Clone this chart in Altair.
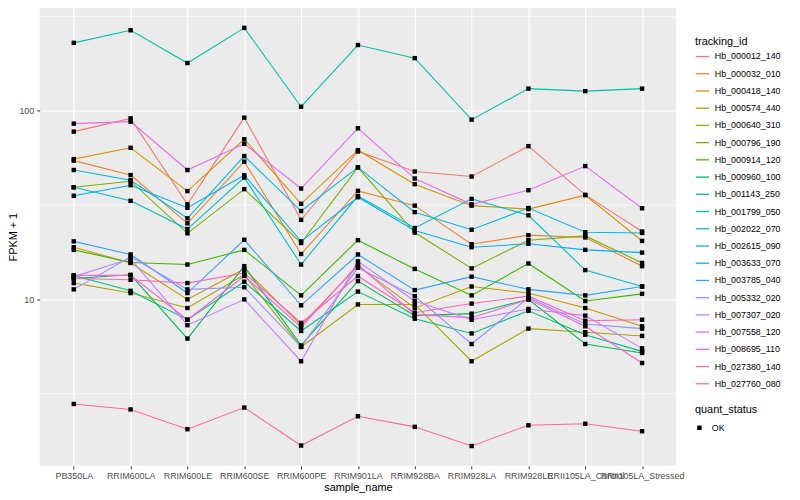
import altair as alt
import pandas as pd

samples = ["PB350LA", "RRIM600LA", "RRIM600LE", "RRIM600SE", "RRIM600PE", "RRIM901LA",
           "RRIM928BA", "RRIM928LA", "RRIM928LE", "RRII105LA_Control", "RRII105LA_Stressed"]

ids = ["Hb_000012_140", "Hb_000032_010", "Hb_000418_140", "Hb_000574_440", "Hb_000640_310",
       "Hb_000796_190", "Hb_000914_120", "Hb_000960_100", "Hb_001143_250", "Hb_001799_050",
       "Hb_002022_070", "Hb_002615_090", "Hb_003633_070", "Hb_003785_040", "Hb_005332_020",
       "Hb_007307_020", "Hb_007558_120", "Hb_008695_110", "Hb_027380_140", "Hb_027760_080"]

palette = ["#F8766D", "#EA8331", "#D89000", "#C09B00", "#A3A500", "#7CAE00", "#39B600",
           "#00BB4E", "#00BF7D", "#00C1A3", "#00BFC4", "#00BAE0", "#00B0F6", "#35A2FF",
           "#9590FF", "#C77CFF", "#E76BF3", "#FA62DB", "#FF62BC", "#FF6A98"]

hb_000012_140 = [77.5, 91.1, 31.9, 91.9, 26.4, 60.8, 47.6, 44.8, 64.9, 35.8, 22.9]
hb_000032_010 = [54.4, 45.6, 25.3, 53.7, 17.4, 37.6, 31.4, 19.6, 21.9, 21.3, 15.0]
hb_000418_140 = [55.4, 63.6, 37.5, 70.6, 32.1, 61.8, 40.8, 31.4, 30.1, 35.7, 20.4]
hb_000574_440 = [18.9, 15.6, 10.0, 14.5, 7.3, 15.0, 9.0, 11.7, 10.8, 9.0, 7.2]
hb_000640_310 = [12.2, 10.8, 9.0, 13.5, 5.6, 9.4, 9.4, 4.7, 7.0, 6.7, 6.4]
hb_000796_190 = [39.3, 42.3, 22.4, 38.4, 19.9, 50.1, 22.6, 14.6, 20.6, 21.7, 15.6]
hb_000914_120 = [18.3, 15.7, 15.3, 18.3, 10.5, 20.6, 14.5, 10.5, 15.5, 9.8, 10.7]
hb_000960_100 = [12.9, 13.5, 6.2, 15.0, 5.7, 12.5, 8.2, 8.4, 10.0, 5.8, 5.2]
hb_001143_250 = [13.4, 11.1, 7.8, 12.4, 6.8, 11.0, 7.9, 6.6, 8.7, 6.5, 5.3]
hb_001799_050 = [229, 267, 179, 275, 105, 223, 190, 89.7, 131, 127, 131]
hb_002022_070 = [39.3, 33.3, 23.6, 44.2, 15.3, 35.3, 23.9, 34.1, 27.9, 14.3, 11.7]
hb_002615_090 = [48.5, 42.8, 26.9, 57.5, 29.4, 50.1, 29.0, 23.4, 30.5, 22.7, 22.5]
hb_003633_070 = [35.4, 40.3, 30.6, 45.5, 20.3, 34.8, 23.2, 18.9, 19.7, 18.3, 17.7]
hb_003785_040 = [20.3, 17.3, 10.8, 20.7, 9.3, 17.3, 11.2, 13.2, 11.3, 10.5, 11.7]
hb_005332_020 = [11.3, 16.8, 11.3, 11.6, 5.6, 14.7, 10.4, 5.8, 10.2, 7.4, 7.0]
hb_007307_020 = [13.2, 16.4, 7.3, 10.0, 4.7, 15.9, 9.8, 7.8, 8.9, 8.2, 5.5]
hb_007558_120 = [85.4, 87.5, 48.5, 66.8, 38.7, 80.7, 43.7, 31.9, 37.9, 50.9, 30.4]
hb_008695_110 = [13.4, 13.4, 7.8, 13.3, 7.1, 15.3, 8.3, 8.0, 10.0, 7.2, 4.6]
hb_027380_140 = [12.9, 12.7, 12.2, 13.8, 7.5, 13.3, 8.5, 9.5, 10.4, 7.7, 7.8]
hb_027760_080 = [2.79, 2.61, 2.05, 2.67, 1.68, 2.40, 2.11, 1.67, 2.15, 2.19, 2.0]

series = [hb_000012_140, hb_000032_010, hb_000418_140, hb_000574_440, hb_000640_310,
          hb_000796_190, hb_000914_120, hb_000960_100, hb_001143_250, hb_001799_050,
          hb_002022_070, hb_002615_090, hb_003633_070, hb_003785_040, hb_005332_020,
          hb_007307_020, hb_007558_120, hb_008695_110, hb_027380_140, hb_027760_080]

minor_breaks = [10 ** 0.5, 10 ** 1.5, 10 ** 2.5]

rows = []
for i, (tid, vals) in enumerate(zip(ids, series)):
    for j, (s, v) in enumerate(zip(samples, vals)):
        rows.append({"sample_name": s, "tracking_id": tid, "fpkm": v,
                     "quant_status": "OK", "order": i * 100 + j})
df = pd.DataFrame(rows)
minor_df = pd.DataFrame({"fpkm": minor_breaks})

FONT = "Liberation Sans"

x_enc = alt.X("sample_name:N", sort=samples,
              scale=alt.Scale(type="point", padding=0.6),
              axis=alt.Axis(title="sample_name", labelAngle=0, labelPadding=3,
                            titlePadding=1, grid=True))
y_enc = alt.Y("fpkm:Q",
              scale=alt.Scale(type="log", domain=[1.311, 352.5], nice=False),
              axis=alt.Axis(title="FPKM + 1", values=[10, 100], format="d",
                            labelPadding=3, titlePadding=0, grid=True))

minor = alt.Chart(minor_df).mark_rule(color="white", strokeWidth=0.55).encode(y=y_enc)

lines = alt.Chart(df).mark_line(strokeWidth=1.1).encode(
    x=x_enc, y=y_enc,
    color=alt.Color("tracking_id:N", sort=ids,
                    scale=alt.Scale(domain=ids, range=palette),
                    legend=alt.Legend(title="tracking_id", orient="none",
                                      legendX=662, legendY=29,
                                      symbolType="stroke", symbolSize=180,
                                      symbolStrokeWidth=1.3, rowPadding=4.4,
                                      titlePadding=2, labelOffset=5)),
    detail="tracking_id:N",
    order="order:Q",
)

points = alt.Chart(df).mark_point(filled=True, color="black", size=20, opacity=1).encode(
    x=x_enc, y=y_enc,
    shape=alt.Shape("quant_status:N",
                    scale=alt.Scale(domain=["OK"], range=["square"]),
                    legend=alt.Legend(title="quant_status", orient="none",
                                      legendX=662, legendY=401,
                                      symbolSize=20, titlePadding=8, labelOffset=8)),
)

chart = alt.layer(minor, lines, points).properties(
    width=643, height=463,
    autosize=alt.AutoSizeParams(type="none"),
    padding={"left": 32, "top": -3, "right": 117, "bottom": 32},
).configure_view(
    fill="#EBEBEB", stroke=None
).configure_axis(
    domain=False, gridColor="white", gridWidth=1.1,
    tickColor="#333333", tickSize=3, tickWidth=1,
    labelColor="#4D4D4D", labelFontSize=9, labelFont=FONT,
    titleFont=FONT, titleFontSize=11, titleFontWeight="normal", titleColor="black",
).configure_legend(
    titleFont=FONT, titleFontSize=11, titleFontWeight="normal", titleColor="black",
    labelFont=FONT, labelFontSize=9, labelColor="black",
)

chart.save("out.html", embed_options={"renderer": "svg", "actions": False})
